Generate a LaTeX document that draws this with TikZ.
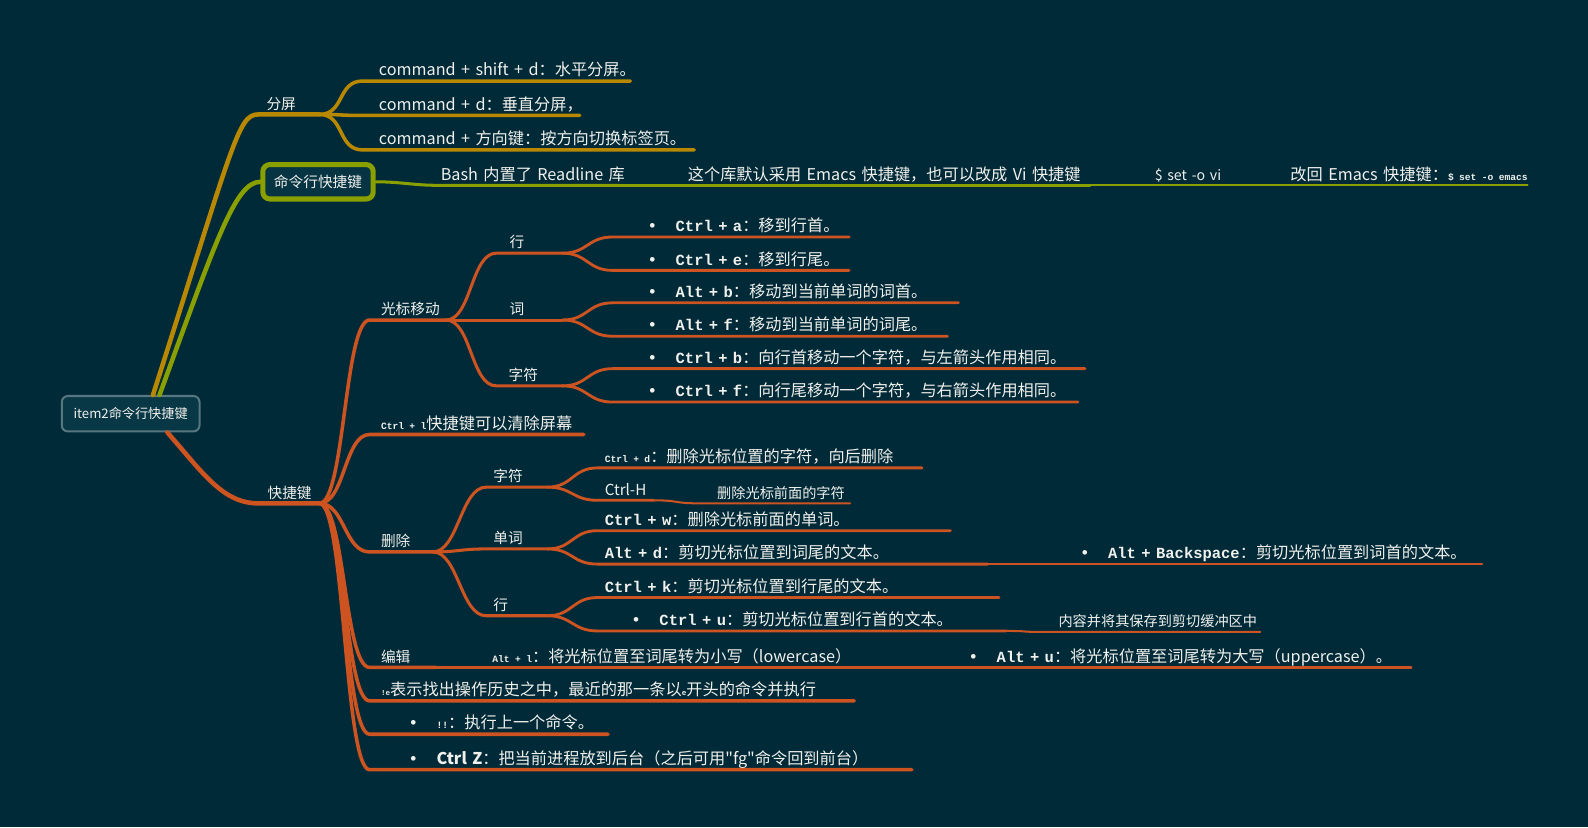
\documentclass[tikz,border=0pt]{standalone}
\usepackage{fontspec}
\setmainfont{Noto Sans CJK SC}
\setmonofont{Liberation Mono}
\newfontfamily\dotfont{Liberation Sans}

\definecolor{bgcol}{RGB}{1,42,56}
\definecolor{goldcol}{RGB}{184,137,0}
\definecolor{olivecol}{RGB}{137,160,0}
\definecolor{orangecol}{RGB}{205,84,32}
\definecolor{rootfill}{RGB}{8,56,70}
\definecolor{rootedge}{RGB}{88,118,128}
\definecolor{boxfill}{RGB}{6,52,66}
\definecolor{ink}{RGB}{240,240,236}

\newcommand\leaffont{\fontsize{16}{19}\selectfont}
\newcommand\subtopicfont{\fontsize{14.5}{17}\selectfont}
\newcommand\notefont{\fontsize{14}{17}\selectfont}
\newcommand\keytt[1]{{\fontsize{15.3}{17}\ttfamily\bfseries #1}}
\newcommand\tinykey[1]{{\fontsize{9.5}{11}\ttfamily\bfseries #1}}
\newcommand\microkey[1]{{\fontsize{7.5}{9}\ttfamily\bfseries #1}}
\newcommand\bullettab{{\dotfont\fontsize{17}{19}\selectfont •}\hspace{20pt}}

\begin{document}
\begin{tikzpicture}[x=1pt, y=-1pt, line cap=round,
    link/.style={out=0, in=180, distance=25pt},
    topic/.style 2 args={anchor=south west, inner xsep=0pt, inner ysep=5pt,
        text width=#1pt, text depth=0pt, align=left, text=ink, font=\leaffont,
        execute at begin node={\hspace*{#2pt}\hbox\bgroup}, execute at end node={\egroup}},
    rootbox/.style={rectangle, rounded corners=6pt, draw=rootedge, fill=rootfill, line width=2pt,
        minimum width=136pt, minimum height=35pt, text=ink, font=\fontsize{13}{15}\selectfont},
    mainbox/.style={rectangle, rounded corners=7pt, draw=olivecol, fill=boxfill, line width=5pt,
        minimum width=109pt, minimum height=34pt, text=ink, font=\subtopicfont},
    goldline/.style={draw=goldcol},
    greenline/.style={draw=olivecol},
    redline/.style={draw=orangecol}]

    % Background
    \fill[bgcol] (0,0) rectangle (1568,817);
    \useasboundingbox (0,0) rectangle (1568,817);

    % Central topic
    \node[rootbox] (root) at (129,408.5) {item2命令行快捷键};

    % Main topics
    \node[topic={60}{8}, font=\subtopicfont] (fenping) at (255,113) {分屏};
    \node[mainbox] (cmdline) at (314,179.5) {命令行快捷键};
    \node[topic={60}{9}, font=\subtopicfont] (kuaijie) at (255,497) {快捷键};

    % Split screen
    \node[topic={264}{16}] (fp1) at (358,80) {command + shift + d：水平分屏。};
    \node[topic={214}{16}] (fp2) at (358,114) {command + d：垂直分屏，};
    \node[topic={327}{16}] (fp3) at (358,148) {command + 方向键：按方向切换标签页。};

    % Readline chain
    \node[topic={179}{2}] (bash) at (433,183) {Bash 内置了 Readline 库};
    \node[topic={406}{9}] (emacs) at (670,183) {这个库默认采用 Emacs 快捷键，也可以改成 Vi 快捷键};
    \node[topic={81}{12}, font=\notefont] (vi) at (1128,183) {\$ set -o vi};
    \node[topic={246}{12}] (emacsback) at (1262,183) {改回 Emacs 快捷键：\tinykey{\$ set -o emacs}};

    % Cursor movement
    \node[topic={75}{11}, font=\subtopicfont] (guangbiao) at (365,316) {光标移动};
    \node[topic={65}{13}, font=\subtopicfont] (hang1) at (490,250) {行};
    \node[topic={65}{13}, font=\subtopicfont] (ci) at (490,316) {词};
    \node[topic={65}{12}, font=\subtopicfont] (zifu1) at (490,381) {字符};
    \node[topic={233}{36}] (ctrla) at (605,234) {\bullettab\keytt{Ctrl + a}：移到行首。};
    \node[topic={233}{36}] (ctrle) at (605,267) {\bullettab\keytt{Ctrl + e}：移到行尾。};
    \node[topic={341}{36}] (altb) at (605,299) {\bullettab\keytt{Alt + b}：移动到当前单词的词首。};
    \node[topic={330}{36}] (altf) at (605,332) {\bullettab\keytt{Alt + f}：移动到当前单词的词尾。};
    \node[topic={466}{36}] (ctrlb) at (605,364) {\bullettab\keytt{Ctrl + b}：向行首移动一个字符，与左箭头作用相同。};
    \node[topic={459}{36}] (ctrlf) at (605,397) {\bullettab\keytt{Ctrl + f}：向行尾移动一个字符，与右箭头作用相同。};

    % Clear screen
    \node[topic={211}{11}] (ctrll) at (365,429) {\tinykey{Ctrl + l}快捷键可以清除屏幕};

    % Delete
    \node[topic={62}{11}, font=\subtopicfont] (shanchu) at (365,545) {删除};
    \node[topic={60}{7}, font=\subtopicfont] (zifu2) at (480,481) {字符};
    \node[topic={60}{7}, font=\subtopicfont] (danci) at (480,542) {单词};
    \node[topic={60}{7}, font=\subtopicfont] (hang2) at (480,608) {行};
    \node[topic={320}{7}] (ctrld) at (590,462) {\tinykey{Ctrl + d}：删除光标位置的字符，向后删除};
    \node[topic={55}{7}, font=\fontsize{15}{17}\selectfont] (ctrlh) at (590,494) {Ctrl-H};
    \node[topic={149}{18}, font=\notefont] (delchar) at (690,497) {删除光标前面的字符};
    \node[topic={348}{7}] (ctrlw) at (590,524) {\keytt{Ctrl + w}：删除光标前面的单词。};
    \node[topic={385}{7}] (altd) at (590,557) {\keytt{Alt + d}：剪切光标位置到词尾的文本。};
    \node[topic={423}{28}] (altbs) at (1040,557) {\bullettab\keytt{Alt + Backspace}：剪切光标位置到词首的文本。};
    \node[topic={396}{7}] (ctrlk) at (590,590) {\keytt{Ctrl + k}：剪切光标位置到行尾的文本。};
    \node[topic={403}{35}] (ctrlu) at (590,623) {\bullettab\keytt{Ctrl + u}：剪切光标位置到行首的文本。};
    \node[topic={214}{15}, font=\notefont] (neirong) at (1030,624) {内容并将其保存到剪切缓冲区中};

    % Edit
    \node[topic={65}{11}, font=\subtopicfont] (bianji) at (365,659) {编辑};
    \node[topic={396}{16}] (altl) at (470,659) {\tinykey{Alt + l}：将光标位置至词尾转为小写（lowercase）};
    \node[topic={463}{28}] (altu) at (930,659) {\bullettab\keytt{Alt + u}：将光标位置至词尾转为大写（uppercase）。};

    % History and jobs
    \node[topic={478}{11}] (histe) at (365,692) {\microkey{!e}表示找出操作历史之中，最近的那一条以\microkey{e}开头的命令并执行};
    \node[topic={235}{40}] (bangbang) at (365,725) {\bullettab\tinykey{!!}：执行上一个命令。};
    \node[topic={535}{40}] (ctrlz) at (365,760) {\bullettab{\bfseries Ctrl Z}：把当前进程放到后台（之后可用\textquotedbl fg\textquotedbl 命令回到前台）};

    % Branches from the central topic
    \draw[goldline, line width=4.5pt] (root.40) .. controls +(80,-250) and +(-20,0) .. (fenping.south west) -- (fenping.south east);
    \draw[greenline, line width=4.5pt] (root.33) .. controls +(55,-150) and +(-25,0) .. (cmdline.west);
    \draw[redline, line width=4.5pt] (root.-27) .. controls +(35,40) and +(-35,0) .. (kuaijie.south west) -- (kuaijie.south east);

    % Split screen lines
    \draw[goldline, line width=3.5pt] (fenping.south east) to[link] (fp1.south west) -- (fp1.south east);
    \draw[goldline, line width=3.5pt] (fenping.south east) to[link] (fp2.south west) -- (fp2.south east);
    \draw[goldline, line width=3.5pt] (fenping.south east) to[link] (fp3.south west) -- (fp3.south east);

    % Readline lines
    \draw[greenline, line width=3pt] (cmdline.east) to[link] (bash.south west) -- (bash.south east);
    \draw[greenline, line width=3pt] (bash.south east) to[link] (emacs.south west) -- (emacs.south east);
    \draw[greenline, line width=2pt] (emacs.south east) to[link] (vi.south west) -- (vi.south east);
    \draw[greenline, line width=2pt] (vi.south east) to[link] (emacsback.south west) -- (emacsback.south east);

    % Shortcut lines
    \draw[redline, line width=3.5pt] (kuaijie.south east) to[link] (guangbiao.south west) -- (guangbiao.south east);
    \draw[redline, line width=3.5pt] (kuaijie.south east) to[link] (ctrll.south west) -- (ctrll.south east);
    \draw[redline, line width=3.5pt] (kuaijie.south east) to[link] (shanchu.south west) -- (shanchu.south east);
    \draw[redline, line width=3.5pt] (kuaijie.south east) to[link] (bianji.south west) -- (bianji.south east);
    \draw[redline, line width=3.5pt] (kuaijie.south east) to[link] (histe.south west) -- (histe.south east);
    \draw[redline, line width=3.5pt] (kuaijie.south east) to[link] (bangbang.south west) -- (bangbang.south east);
    \draw[redline, line width=3.5pt] (kuaijie.south east) to[link] (ctrlz.south west) -- (ctrlz.south east);

    % Cursor movement lines
    \draw[redline, line width=3pt] (guangbiao.south east) to[link] (hang1.south west) -- (hang1.south east);
    \draw[redline, line width=3pt] (guangbiao.south east) to[link] (ci.south west) -- (ci.south east);
    \draw[redline, line width=3pt] (guangbiao.south east) to[link] (zifu1.south west) -- (zifu1.south east);
    \draw[redline, line width=2.8pt] (hang1.south east) to[link] (ctrla.south west) -- (ctrla.south east);
    \draw[redline, line width=2.8pt] (hang1.south east) to[link] (ctrle.south west) -- (ctrle.south east);
    \draw[redline, line width=2.8pt] (ci.south east) to[link] (altb.south west) -- (altb.south east);
    \draw[redline, line width=2.8pt] (ci.south east) to[link] (altf.south west) -- (altf.south east);
    \draw[redline, line width=2.8pt] (zifu1.south east) to[link] (ctrlb.south west) -- (ctrlb.south east);
    \draw[redline, line width=2.8pt] (zifu1.south east) to[link] (ctrlf.south west) -- (ctrlf.south east);

    % Delete lines
    \draw[redline, line width=3pt] (shanchu.south east) to[link] (zifu2.south west) -- (zifu2.south east);
    \draw[redline, line width=3pt] (shanchu.south east) to[link] (danci.south west) -- (danci.south east);
    \draw[redline, line width=3pt] (shanchu.south east) to[link] (hang2.south west) -- (hang2.south east);
    \draw[redline, line width=2.8pt] (zifu2.south east) to[link] (ctrld.south west) -- (ctrld.south east);
    \draw[redline, line width=2.8pt] (zifu2.south east) to[link] (ctrlh.south west) -- (ctrlh.south east);
    \draw[redline, line width=2pt] (ctrlh.south east) to[link] (delchar.south west) -- (delchar.south east);
    \draw[redline, line width=2.8pt] (danci.south east) to[link] (ctrlw.south west) -- (ctrlw.south east);
    \draw[redline, line width=2.8pt] (danci.south east) to[link] (altd.south west) -- (altd.south east);
    \draw[redline, line width=2.5pt] (altd.south east) to[link] (altbs.south west) -- (altbs.south east);
    \draw[redline, line width=2.8pt] (hang2.south east) to[link] (ctrlk.south west) -- (ctrlk.south east);
    \draw[redline, line width=2.8pt] (hang2.south east) to[link] (ctrlu.south west) -- (ctrlu.south east);
    \draw[redline, line width=2pt] (ctrlu.south east) to[link] (neirong.south west) -- (neirong.south east);

    % Edit lines
    \draw[redline, line width=3pt] (bianji.south east) to[link] (altl.south west) -- (altl.south east);
    \draw[redline, line width=2.5pt] (altl.south east) to[link] (altu.south west) -- (altu.south east);
\end{tikzpicture}
\end{document}
